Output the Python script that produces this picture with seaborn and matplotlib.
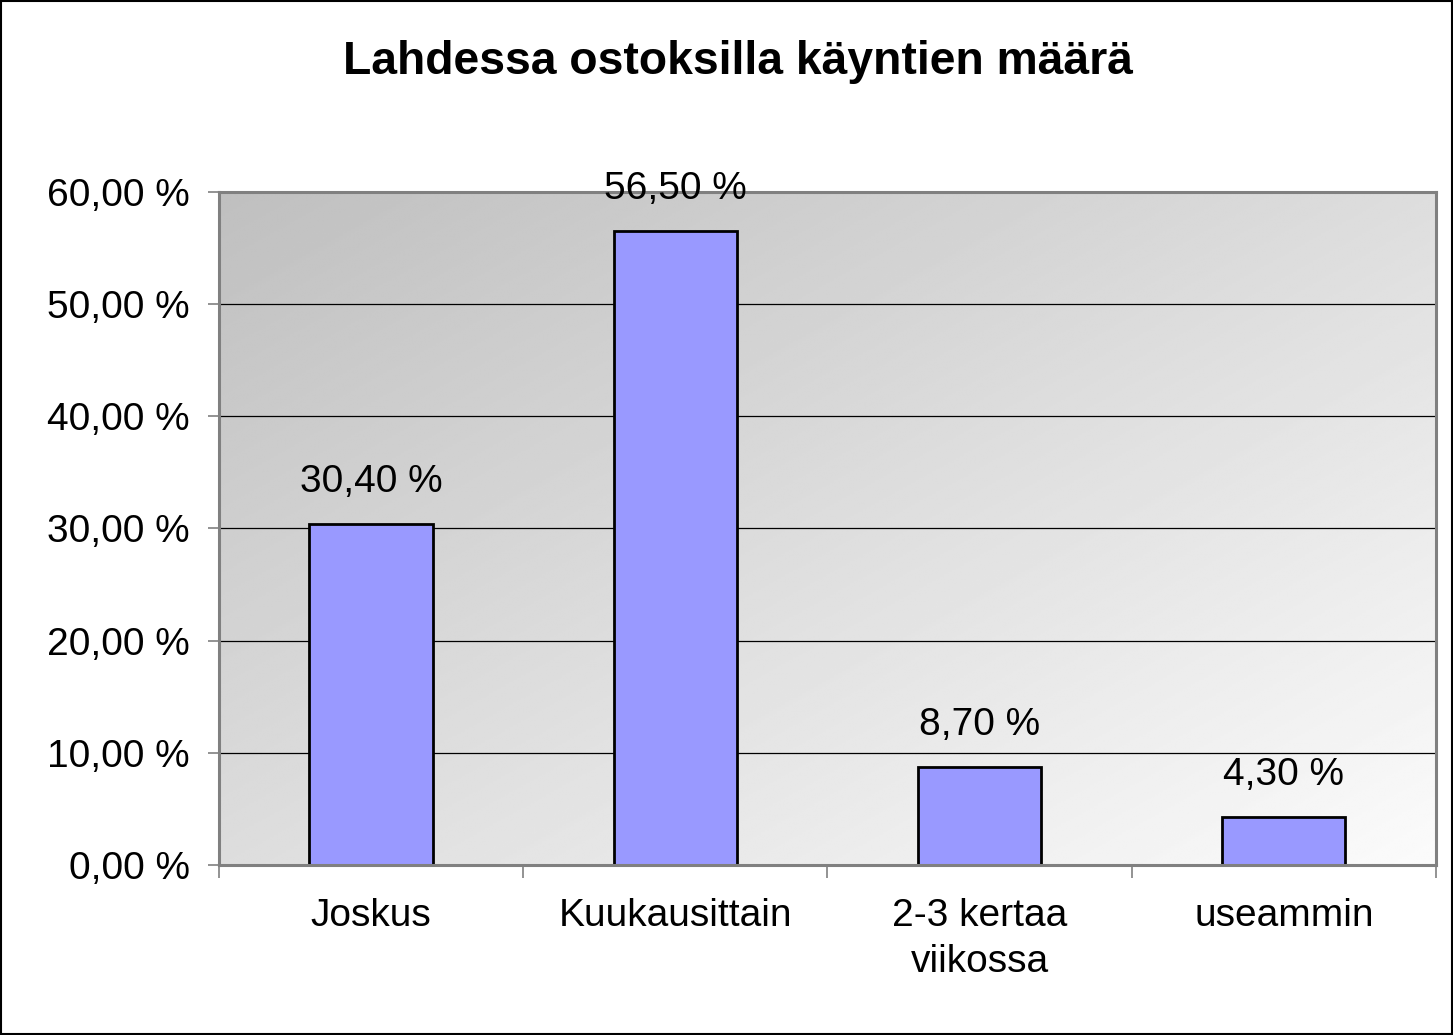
import numpy as np
import pandas as pd
import matplotlib
matplotlib.use("Agg")
import matplotlib.pyplot as plt
import seaborn as sns
from matplotlib.ticker import FuncFormatter, FixedLocator
from matplotlib.patches import Rectangle

categories = ["Joskus", "Kuukausittain", "2-3 kertaa\nviikossa", "useammin"]
values = [30.40, 56.50, 8.70, 4.30]
title = "Lahdessa ostoksilla käyntien määrä"
yticks = [0, 10, 20, 30, 40, 50, 60]

sns.set_theme(style="white")
plt.rcParams['font.family'] = ['Liberation Sans', 'DejaVu Sans']
plt.rcParams['text.color'] = 'black'

fig = plt.figure(figsize=(14.53, 10.35), dpi=100)
ax = fig.add_axes([0.1507, 0.1643, 0.9883 - 0.1507, 0.8145 - 0.1643])

df = pd.DataFrame({"cat": categories, "val": values})

# gradient background
u = np.linspace(0, 1, 300)
v = np.linspace(0, 1, 300)
U, V = np.meshgrid(u, v)  # V: 0 top -> 1 bottom
t = (U + V) / 2
g = 0.75 + (0.985 - 0.75) * t
ax.imshow(g, cmap="gray", vmin=0, vmax=1, extent=[0, 1, 0, 1], origin="upper",
          transform=ax.transAxes, aspect="auto", zorder=0, interpolation="bilinear")

sns.barplot(data=df, x="cat", y="val", color="#9999FF", saturation=1,
            edgecolor="black", linewidth=2.0, width=0.405, ax=ax, zorder=3)

ax.set_xlim(-0.5, len(categories) - 0.5)
ax.set_ylim(0, 60)
ax.set_xlabel("")
ax.set_ylabel("")

for y in yticks[1:-1]:
    ax.axhline(y, color="black", linewidth=0.9, zorder=1)

ax.yaxis.set_major_locator(FixedLocator(yticks))
ax.yaxis.set_major_formatter(FuncFormatter(lambda val, pos: f"{val:.2f}".replace(".", ",") + " %"))
ax.tick_params(axis="y", which="major", left=True, length=8, width=1.2, color="#808080",
               labelsize=28, pad=13, labelcolor="black")
ax.tick_params(axis="x", which="major", bottom=False, length=0, labelsize=28, pad=24,
               labelcolor="black")
ax.set_xticks(range(len(categories)))
ax.set_xticklabels(categories, linespacing=1.34)
ax.set_xticks(np.arange(-0.5, len(categories), 1.0), minor=True)
ax.tick_params(axis="x", which="minor", bottom=True, length=9, width=1.2, color="#808080")

for s in ax.spines.values():
    s.set_color("#808080")
    s.set_linewidth(2.2)
    s.set_visible(True)
    s.set_zorder(4)

for i, val in enumerate(values):
    ax.annotate(f"{val:.2f}".replace(".", ",") + " %", xy=(i, val), xytext=(0, 23),
                textcoords="offset points", ha="center", va="baseline", fontsize=28,
                color="black", zorder=5, annotation_clip=False)

fig.text(0.508, 0.94, title, ha="center", va="center", fontsize=33.3, fontweight="bold",
         color="black")

fig.patches.append(Rectangle((0.0005, 0.0007), 0.999, 0.9986, transform=fig.transFigure,
                             fill=False, edgecolor="black", linewidth=1.5))

fig.savefig("out.png", dpi=100)
